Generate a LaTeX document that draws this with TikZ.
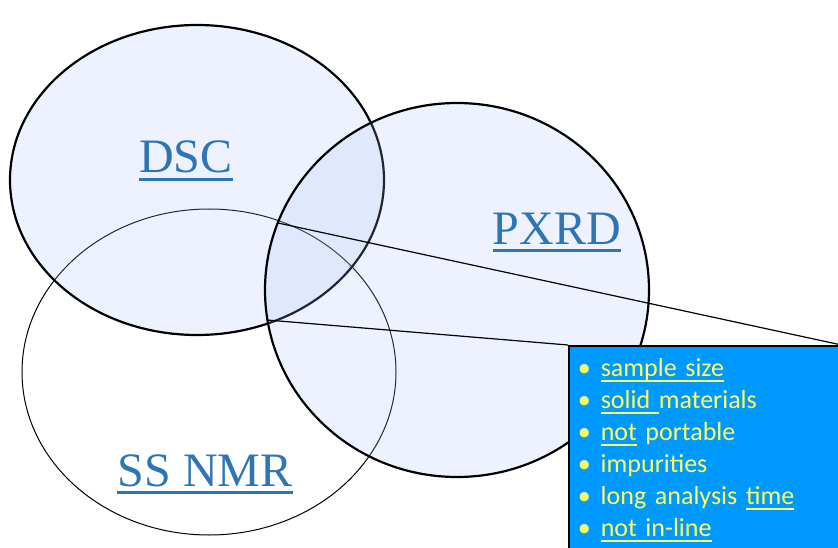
\documentclass[tikz,border=0pt]{standalone}
\usepackage{fontspec}
\setmainfont{Liberation Serif}
\newfontfamily\boxfont{Carlito}
\usetikzlibrary{shapes.geometric}
\definecolor{setblue}{RGB}{170,190,250}
\definecolor{labelblue}{RGB}{46,117,182}
\definecolor{notebox}{RGB}{0,153,255}
\definecolor{noteyellow}{RGB}{255,255,102}
\tikzstyle{setring} = [ellipse, draw, line width=2.2pt, fill=setblue, fill opacity=0.2, inner sep=0pt]
\tikzstyle{thinring} = [ellipse, draw, line width=1pt, inner sep=0pt]
\tikzstyle{setlabel} = [text=labelblue, font=\fontsize{48}{48}\selectfont, inner sep=0pt, anchor=base]
\tikzstyle{labelrule} = [draw=labelblue, line width=2.2pt]
\tikzstyle{leader} = [line width=1.2pt]
\tikzstyle{notes} = [draw, line width=1.5pt, fill=notebox, text=noteyellow, anchor=north west, inner xsep=9pt, inner ysep=8.6pt, text width=254pt, align=left, font=\boxfont\fontsize{26}{32}\selectfont]
\newcommand{\bul}{\strut\makebox[23pt][l]{\textbullet}}
\newcommand{\uln}[1]{\setbox0\hbox{#1}\rlap{\rule[-5pt]{\wd0}{1.3pt}}\box0\relax}

\begin{document}
\begin{tikzpicture}[x=1pt,y=-1pt]
	\useasboundingbox (0,0) rectangle (838,548);
	\clip (0,0) rectangle (838,548);
	% the three sets
	\node[thinring, minimum width=374pt, minimum height=326pt] (nmrset) at (209,372) {};
	\node[setring, minimum width=374pt, minimum height=310pt] (dscset) at (197,180) {};
	\node[setring, minimum width=384pt, minimum height=374pt] (pxrdset) at (457,290) {};
	\node[setlabel] (dsclabel) at (186,173) {DSC};
	\node[setlabel] (pxrdlabel) at (557,244) {PXRD};
	\node[setlabel] (nmrlabel) at (205,486) {SS NMR};
	\foreach \lab in {dsclabel,pxrdlabel,nmrlabel}
		\draw[labelrule] ([yshift=-6.5pt]\lab.base west) -- ([yshift=-6.5pt]\lab.base east);
	% callout
	\coordinate (lowtip) at (267,320);
	\coordinate (hightip) at (278,223);
	\node[notes] (issues) at (568,345) {
		\bul\uln{sample size}\\
		\bul\uln{solid\ }materials\\
		\bul\uln{not} portable\\
		\bul impurities\\
		\bul long analysis \uln{time}\\
		\bul\uln{not in-line}\strut};
	\draw[leader] (issues.north west) -- (lowtip);
	\draw[leader] (issues.north east) -- (hightip);
\end{tikzpicture}
\end{document}
